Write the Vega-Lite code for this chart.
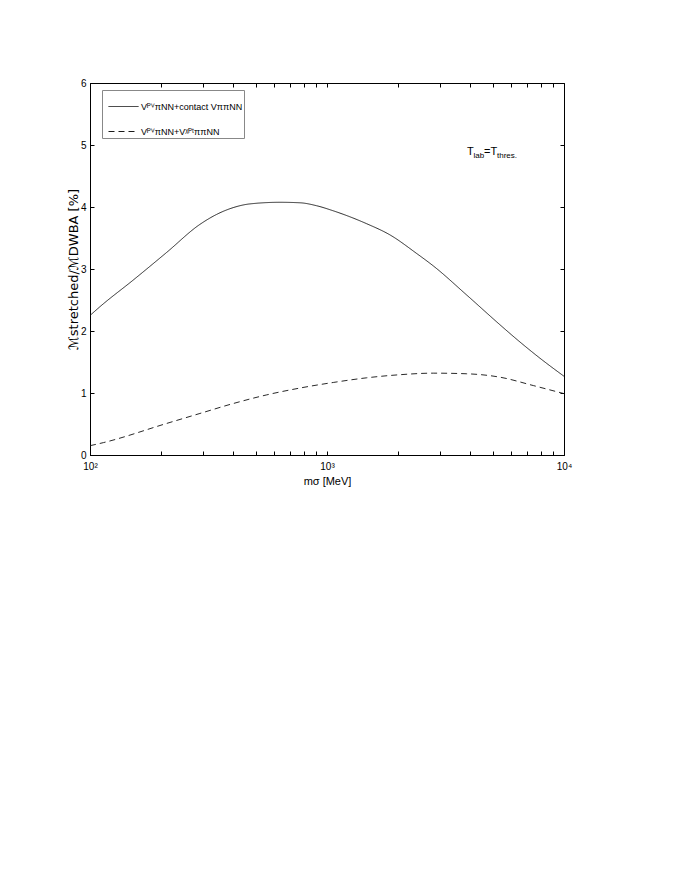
{
  "$schema": "https://vega.github.io/schema/vega-lite/v6.json",
  "width": 474,
  "height": 372,
  "autosize": {"type": "none"},
  "padding": {"left": 90, "top": 83, "right": 116, "bottom": 425},
  "background": "white",
  "config": {
    "view": {"stroke": "black", "strokeWidth": 1},
    "font": "Liberation Sans",
    "axis": {"labelFont": "Liberation Sans", "titleFont": "Liberation Sans", "labelColor": "black", "titleColor": "black", "domainColor": "black", "tickColor": "black", "grid": false, "titleFontWeight": "normal", "labelFontSize": 10, "titleFontSize": 11}
  },
  "datasets": {
    "curves": [
      {"m": 100, "v": 2.25, "series": "VᴾⱽπNN+contact VππNN"},
      {"m": 110, "v": 2.39, "series": "VᴾⱽπNN+contact VππNN"},
      {"m": 152, "v": 2.82, "series": "VᴾⱽπNN+contact VππNN"},
      {"m": 211, "v": 3.27, "series": "VᴾⱽπNN+contact VππNN"},
      {"m": 291, "v": 3.72, "series": "VᴾⱽπNN+contact VππNN"},
      {"m": 342, "v": 3.88, "series": "VᴾⱽπNN+contact VππNN"},
      {"m": 402, "v": 3.99, "series": "VᴾⱽπNN+contact VππNN"},
      {"m": 473, "v": 4.05, "series": "VᴾⱽπNN+contact VππNN"},
      {"m": 633, "v": 4.076, "series": "VᴾⱽπNN+contact VππNN"},
      {"m": 769, "v": 4.068, "series": "VᴾⱽπNN+contact VππNN"},
      {"m": 905, "v": 4.02, "series": "VᴾⱽπNN+contact VππNN"},
      {"m": 1060, "v": 3.94, "series": "VᴾⱽπNN+contact VππNN"},
      {"m": 1471, "v": 3.73, "series": "VᴾⱽπNN+contact VππNN"},
      {"m": 1844, "v": 3.55, "series": "VᴾⱽπNN+contact VππNN"},
      {"m": 2390, "v": 3.25, "series": "VᴾⱽπNN+contact VππNN"},
      {"m": 2809, "v": 3.05, "series": "VᴾⱽπNN+contact VππNN"},
      {"m": 3886, "v": 2.58, "series": "VᴾⱽπNN+contact VππNN"},
      {"m": 5370, "v": 2.1, "series": "VᴾⱽπNN+contact VππNN"},
      {"m": 6213, "v": 1.89, "series": "VᴾⱽπNN+contact VππNN"},
      {"m": 7925, "v": 1.56, "series": "VᴾⱽπNN+contact VππNN"},
      {"m": 10000, "v": 1.27, "series": "VᴾⱽπNN+contact VππNN"},
      {"m": 100, "v": 0.15, "series": "VᴾⱽπNN+VᵡᴾᵗππNN"},
      {"m": 114, "v": 0.2, "series": "VᴾⱽπNN+VᵡᴾᵗππNN"},
      {"m": 211, "v": 0.51, "series": "VᴾⱽπNN+VᵡᴾᵗππNN"},
      {"m": 291, "v": 0.67, "series": "VᴾⱽπNN+VᵡᴾᵗππNN"},
      {"m": 402, "v": 0.83, "series": "VᴾⱽπNN+VᵡᴾᵗππNN"},
      {"m": 557, "v": 0.97, "series": "VᴾⱽπNN+VᵡᴾᵗππNN"},
      {"m": 769, "v": 1.08, "series": "VᴾⱽπNN+VᵡᴾᵗππNN"},
      {"m": 1063, "v": 1.17, "series": "VᴾⱽπNN+VᵡᴾᵗππNN"},
      {"m": 1471, "v": 1.245, "series": "VᴾⱽπNN+VᵡᴾᵗππNN"},
      {"m": 2032, "v": 1.295, "series": "VᴾⱽπNN+VᵡᴾᵗππNN"},
      {"m": 2809, "v": 1.32, "series": "VᴾⱽπNN+VᵡᴾᵗππNN"},
      {"m": 3886, "v": 1.31, "series": "VᴾⱽπNN+VᵡᴾᵗππNN"},
      {"m": 5370, "v": 1.255, "series": "VᴾⱽπNN+VᵡᴾᵗππNN"},
      {"m": 7422, "v": 1.12, "series": "VᴾⱽπNN+VᵡᴾᵗππNN"},
      {"m": 10000, "v": 0.99, "series": "VᴾⱽπNN+VᵡᴾᵗππNN"}
    ]
  },
  "resolve": {"axis": {"x": "independent", "y": "independent"}},
  "layer": [
    {
      "data": {"name": "curves"},
      "mark": {"type": "line", "color": "#111", "strokeWidth": 0.9, "interpolate": "monotone"},
      "encoding": {
        "x": {"field": "m", "type": "quantitative", "scale": {"type": "log", "domain": [100, 10000], "nice": false},
          "axis": {"orient": "bottom", "title": "mσ [MeV]", "titlePadding": 4, "values": [100,200,300,400,500,600,700,800,900,1000,2000,3000,4000,5000,6000,7000,8000,9000,10000],
            "labelExpr": "datum.value==100?'10²':datum.value==1000?'10³':datum.value==10000?'10⁴':''", "tickSize": -4, "labelPadding": 10, "domain": true, "labelFlush": false}},
        "y": {"field": "v", "type": "quantitative", "scale": {"domain": [0, 6], "nice": false},
          "axis": {"orient": "left", "values": [0,1,2,3,4,5,6], "tickSize": -4, "labelPadding": 8, "title": "ℳstretched/ℳDWBA [%]", "titleFont": "DejaVu Sans", "titleFontSize": 13, "titlePadding": 0}},
        "strokeDash": {"field": "series", "type": "nominal",
          "scale": {"domain": ["VᴾⱽπNN+contact VππNN", "VᴾⱽπNN+VᵡᴾᵗππNN"], "range": [[1, 0], [6, 4]]},
          "legend": {"title": null, "orient": "none", "legendX": 12, "legendY": 7, "strokeColor": "#888", "fillColor": "white", "padding": 1, "symbolOffset": 5, "symbolType": "stroke", "symbolSize": 900, "symbolStrokeWidth": 0.9, "symbolStrokeColor": "black", "labelFontSize": 9, "labelFont": "Liberation Sans", "labelColor": "black", "rowPadding": 4, "labelOffset": 2, "cornerRadius": 0}}
      }
    },
    {
      "data": {"name": "curves"},
      "mark": {"type": "line", "opacity": 0},
      "encoding": {
        "x": {"field": "m", "type": "quantitative", "axis": {"orient": "top", "labels": false, "title": null, "domain": false, "tickSize": -4, "values": [100,200,300,400,500,600,700,800,900,1000,2000,3000,4000,5000,6000,7000,8000,9000,10000]}},
        "y": {"field": "v", "type": "quantitative", "axis": {"orient": "right", "labels": false, "title": null, "domain": false, "tickSize": -4, "values": [0,1,2,3,4,5,6]}}
      }
    },
    {
      "data": {"values": [{}]},
      "mark": {"type": "text", "text": "T", "fontSize": 11, "align": "left", "baseline": "alphabetic", "font": "Liberation Sans"},
      "encoding": {"x": {"datum": 3897, "type": "quantitative", "axis": null}, "y": {"datum": 4.84, "type": "quantitative", "axis": null}}
    },
    {
      "data": {"values": [{}]},
      "mark": {"type": "text", "text": "lab", "fontSize": 8, "align": "left", "baseline": "alphabetic", "dx": 6.5, "dy": 3, "font": "Liberation Sans"},
      "encoding": {"x": {"datum": 3897, "type": "quantitative", "axis": null}, "y": {"datum": 4.84, "type": "quantitative", "axis": null}}
    },
    {
      "data": {"values": [{}]},
      "mark": {"type": "text", "text": "=", "fontSize": 11, "align": "left", "baseline": "alphabetic", "dx": 17, "font": "Liberation Sans"},
      "encoding": {"x": {"datum": 3897, "type": "quantitative", "axis": null}, "y": {"datum": 4.84, "type": "quantitative", "axis": null}}
    },
    {
      "data": {"values": [{}]},
      "mark": {"type": "text", "text": "T", "fontSize": 11, "align": "left", "baseline": "alphabetic", "dx": 23.5, "font": "Liberation Sans"},
      "encoding": {"x": {"datum": 3897, "type": "quantitative", "axis": null}, "y": {"datum": 4.84, "type": "quantitative", "axis": null}}
    },
    {
      "data": {"values": [{}]},
      "mark": {"type": "text", "text": "thres.", "fontSize": 8, "align": "left", "baseline": "alphabetic", "dx": 30, "dy": 3, "font": "Liberation Sans"},
      "encoding": {"x": {"datum": 3897, "type": "quantitative", "axis": null}, "y": {"datum": 4.84, "type": "quantitative", "axis": null}}
    }
  ]
}
